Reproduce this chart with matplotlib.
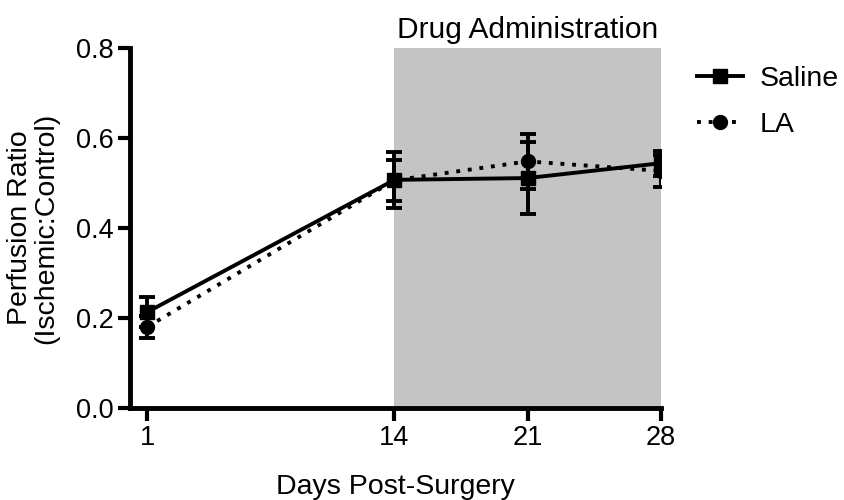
import matplotlib
matplotlib.use("Agg")
import matplotlib.pyplot as plt

plt.rcParams["font.family"] = ["Liberation Sans", "DejaVu Sans"]

days = [1, 14, 21, 28]
saline = [0.213, 0.507, 0.511, 0.544]
saline_err = [0.033, 0.062, 0.080, 0.028]
la = [0.180, 0.506, 0.548, 0.527]
la_err = [0.025, 0.045, 0.062, 0.035]

FS = 20.5

fig = plt.figure(figsize=(8.45, 5.0), dpi=100)
ax = fig.add_axes([0.154, 0.184, 0.628, 0.72])

# shaded treatment window
ax.axvspan(14, 28, ymin=0, ymax=1, color="#c4c4c4", lw=0, zorder=0)

ax.errorbar(days, saline, yerr=saline_err, color="black", lw=2.8, ls="-",
            marker="s", ms=10, capsize=6, capthick=2.8, elinewidth=2.8,
            label="Saline", zorder=3)
ax.errorbar(days, la, yerr=la_err, color="black", lw=2.8, ls=(0, (1, 2)),
            marker="o", ms=10, capsize=6, capthick=2.8, elinewidth=2.8,
            label="LA", zorder=3)

ax.set_xlim(0.107, 28)
ax.set_ylim(0, 0.8)
ax.set_xticks(days)
ax.set_yticks([0.0, 0.2, 0.4, 0.6, 0.8])
ax.set_yticklabels(["0.0", "0.2", "0.4", "0.6", "0.8"])
ax.tick_params(axis="both", direction="out", length=9, width=3,
               labelsize=19.5, pad=3)

for side in ["top", "right"]:
    ax.spines[side].set_visible(False)
for side in ["left", "bottom"]:
    ax.spines[side].set_linewidth(3.5)
ax.patch.set_visible(False)

ax.set_xlabel("Days Post-Surgery", fontsize=FS, labelpad=16.5)
ax.set_ylabel("Perfusion Ratio\n(Ischemic:Control)", fontsize=FS,
              labelpad=12, linespacing=1.0)

ax.text(21, 0.81, "Drug Administration", ha="center", va="bottom",
        fontsize=21.5)

handles, labels = ax.get_legend_handles_labels()
handles = [h[0] for h in handles]
ax.legend(handles, labels, loc="upper left", bbox_to_anchor=(1.02, 1.02),
          frameon=False, fontsize=FS, handlelength=1.6, handletextpad=0.6,
          labelspacing=0.7)

fig.savefig("out.png", dpi=100)
